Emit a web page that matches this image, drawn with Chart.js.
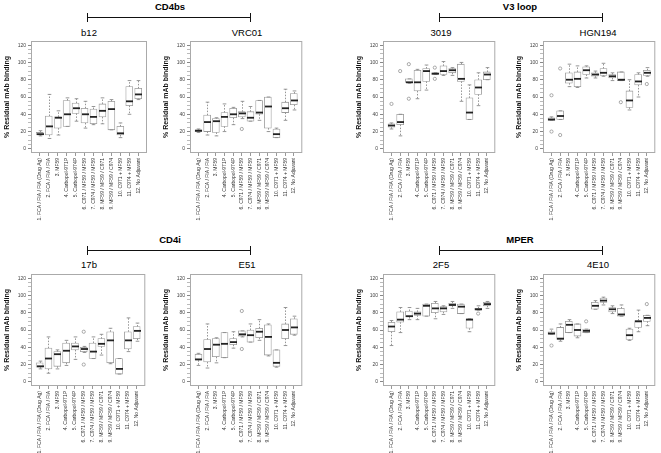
<!DOCTYPE html>
<html>
<head>
<meta charset="utf-8">
<script src="https://cdn.jsdelivr.net/npm/chart.js@4.4.1/dist/chart.umd.min.js"></script>
<style>
  html, body { margin: 0; padding: 0; background: #fff; }
  body { width: 661px; height: 453px; position: relative; overflow: hidden; font-family: "Liberation Sans", Arial, sans-serif; color: #000; }
  .grp { position: absolute; font-weight: bold; font-size: 9.5px; transform: translate(-50%, -50%); white-space: nowrap; }
  .ttl { position: absolute; font-size: 9.5px; transform: translate(-50%, -50%); white-space: nowrap; }
  .brk { position: absolute; height: 0; border-top: 1.5px solid #111; }
  .cap { position: absolute; width: 0; height: 9px; border-left: 1.5px solid #111; }
  .panel { position: absolute; }
</style>
</head>
<body>

<div class="grp" style="left:170px; top:6px;">CD4bs</div>
<div class="brk" style="left:88px; top:17px; width:163px;"></div>
<div class="cap" style="left:87px; top:13px;"></div>
<div class="cap" style="left:250px; top:13px;"></div>
<div class="ttl" style="left:89px; top:32px;">b12</div>
<div class="ttl" style="left:247px; top:32px;">VRC01</div>

<div class="grp" style="left:520px; top:6px;">V3 loop</div>
<div class="brk" style="left:440px; top:17px; width:163px;"></div>
<div class="cap" style="left:439px; top:13px;"></div>
<div class="cap" style="left:602px; top:13px;"></div>
<div class="ttl" style="left:441px; top:32px;">3019</div>
<div class="ttl" style="left:598px; top:32px;">HGN194</div>

<div class="grp" style="left:170px; top:239px;">CD4i</div>
<div class="brk" style="left:88px; top:250px; width:163px;"></div>
<div class="cap" style="left:87px; top:246px;"></div>
<div class="cap" style="left:250px; top:246px;"></div>
<div class="ttl" style="left:89px; top:264px;">17b</div>
<div class="ttl" style="left:247px; top:264px;">E51</div>

<div class="grp" style="left:520px; top:239px;">MPER</div>
<div class="brk" style="left:440px; top:250px; width:163px;"></div>
<div class="cap" style="left:439px; top:246px;"></div>
<div class="cap" style="left:602px; top:246px;"></div>
<div class="ttl" style="left:441px; top:264px;">2F5</div>
<div class="ttl" style="left:598px; top:264px;">4E10</div>

<script>
// groups on the x axis
const groups = [
  '1. FCA / FIA / FIA (Drug Ag)',
  '2. FCA / FIA / FIA',
  '3. MF59',
  '4. Carbopol-971P',
  '5. Carbopol-974P',
  '6. C971 / MF59 / MF59',
  '7. C974 / MF59 / MF59',
  '8. MF59 / MF59 / C971',
  '9. MF59 / MF59 / C974',
  '10. C971 + MF59',
  '11. C974 + MF59',
  '12. No Adjuvant'
];
const yTicks = [0, 20, 40, 60, 80, 100, 120];

// box stats per group: [lower whisker, q1, median, q3, upper whisker]
const b12Stats = [
  [15, 16, 17, 19, 21], [12, 16, 26, 38, 63], [16, 24, 36, 37, 44], [26, 26, 40, 56, 59],
  [32, 41, 47, 53, 58], [24, 30, 40, 47, 55], [28, 29, 37, 46, 49], [29, 37, 44, 52, 59],
  [22, 22, 46, 55, 57], [13, 16, 18, 26, 30], [40, 50, 55, 72, 79], [57, 58, 63, 70, 79]
];
const b12Out = [];

const vrc01Stats = [
  [19, 20, 21, 22, 23], [16, 20, 31, 39, 54], [15, 19, 32, 35, 36], [20, 26, 37, 42, 52],
  [28, 36, 40, 47, 48], [35, 37, 41, 43, 55], [32, 32, 36, 43, 49], [33, 40, 42, 56, 56],
  [20, 24, 49, 60, 60], [13, 13, 17, 23, 24], [33, 42, 47, 54, 69], [45, 51, 56, 64, 67]
];
const vrc01Out = [[6, 23]];

const m3019Stats = [
  [23, 25, 27, 29, 30], [15, 28, 31, 40, 40], [76, 77, 77, 81, 81], [58, 67, 77, 91, 92],
  [68, 78, 90, 93, 97], [86, 86, 87, 88, 88], [85, 86, 90, 96, 101], [85, 88, 91, 93, 94],
  [55, 78, 81, 98, 100], [34, 34, 42, 59, 74], [50, 63, 71, 80, 88], [80, 80, 86, 89, 94]
];
const m3019Out = [[1, 52], [2, 90], [3, 98], [3, 58], [6, 94], [6, 81]];

const hgn194Stats = [
  [33, 33, 34, 36, 37], [34, 34, 38, 44, 44], [72, 76, 80, 88, 98], [71, 72, 81, 89, 96],
  [82, 86, 91, 95, 96], [82, 84, 86, 88, 90], [84, 85, 88, 93, 99], [79, 82, 84, 86, 88],
  [79, 79, 80, 89, 89], [45, 48, 56, 67, 80], [60, 74, 78, 86, 88], [84, 85, 88, 91, 94]
];
const hgn194Out = [[1, 62], [1, 20], [2, 93], [2, 16], [9, 54], [12, 75]];

const m17bStats = [
  [15, 17, 18, 22, 24], [10, 15, 27, 39, 52], [15, 18, 32, 35, 37], [19, 22, 36, 45, 48],
  [26, 37, 41, 45, 52], [34, 35, 38, 40, 41], [27, 27, 35, 45, 52], [31, 41, 44, 50, 55],
  [21, 22, 48, 58, 62], [9, 9, 15, 27, 27], [35, 38, 48, 58, 74], [47, 50, 59, 64, 68]
];
const m17bOut = [[6, 58], [6, 20]];

const e51Stats = [
  [19, 25, 26, 32, 33], [16, 23, 38, 49, 67], [22, 29, 43, 50, 51], [28, 28, 44, 57, 57],
  [39, 43, 46, 50, 58], [52, 53, 55, 59, 59], [46, 46, 54, 60, 67], [48, 51, 58, 62, 72],
  [30, 31, 52, 66, 67], [17, 18, 22, 37, 37], [42, 50, 60, 67, 86], [54, 55, 63, 73, 76]
];
const e51Out = [[6, 82], [6, 38]];

const m2f5Stats = [
  [42, 58, 64, 69, 71], [57, 69, 72, 81, 86], [72, 75, 76, 82, 86], [72, 77, 79, 81, 85],
  [76, 76, 88, 90, 90], [73, 80, 85, 91, 93], [78, 81, 85, 87, 88], [85, 88, 89, 91, 93],
  [79, 79, 87, 90, 90], [58, 62, 72, 73, 73], [83, 83, 84, 85, 88], [85, 88, 90, 92, 93]
];
const m2f5Out = [[11, 79]];

const m4e10Stats = [
  [55, 55, 56, 58, 61], [47, 49, 50, 63, 67], [57, 57, 66, 70, 72], [51, 53, 60, 67, 67],
  [57, 57, 59, 61, 61], [84, 84, 88, 92, 94], [89, 92, 94, 97, 98], [79, 81, 84, 86, 88],
  [76, 76, 78, 85, 89], [48, 49, 54, 61, 62], [58, 63, 70, 71, 83], [65, 70, 74, 77, 77]
];
const m4e10Out = [[1, 42], [5, 70], [12, 90]];

// where each plot frame sits on the page
const panels = [
  { id: 'b12',    stats: b12Stats,    out: b12Out,    left: 31,  right: 147, top: 38,  bottom: 153 },
  { id: 'vrc01',  stats: vrc01Stats,  out: vrc01Out,  left: 190, right: 304, top: 38,  bottom: 153 },
  { id: 'm3019',  stats: m3019Stats,  out: m3019Out,  left: 383, right: 497, top: 38,  bottom: 153 },
  { id: 'hgn194', stats: hgn194Stats, out: hgn194Out, left: 543, right: 657, top: 38,  bottom: 153 },
  { id: 'm17b',   stats: m17bStats,   out: m17bOut,   left: 31,  right: 147, top: 271, bottom: 386 },
  { id: 'e51',    stats: e51Stats,    out: e51Out,    left: 190, right: 304, top: 271, bottom: 386 },
  { id: 'm2f5',   stats: m2f5Stats,   out: m2f5Out,   left: 383, right: 497, top: 271, bottom: 386 },
  { id: 'm4e10',  stats: m4e10Stats,  out: m4e10Out,  left: 543, right: 657, top: 271, bottom: 386 }
];

const Y_AXIS_W = 28;
const X_AXIS_H = 74;

// whiskers, caps, medians and the plot frame
const boxPlugin = {
  id: 'boxWhiskers',
  afterDatasetsDraw(chart, args, opts) {
    const xs = chart.scales.x;
    const ys = chart.scales.y;
    const ctx = chart.ctx;
    ctx.save();
    opts.stats.forEach((s, i) => {
      const x = Math.round(xs.getPixelForValue(i + 1)) + 0.5;
      const lo = ys.getPixelForValue(s[0]);
      const q1 = ys.getPixelForValue(s[1]);
      const med = ys.getPixelForValue(s[2]);
      const q3 = ys.getPixelForValue(s[3]);
      const hi = ys.getPixelForValue(s[4]);
      ctx.strokeStyle = '#8a8a8a';
      ctx.lineWidth = 0.9;
      ctx.setLineDash([1.5, 1.5]);
      ctx.beginPath();
      ctx.moveTo(x, q3); ctx.lineTo(x, hi);
      ctx.moveTo(x, q1); ctx.lineTo(x, lo);
      ctx.stroke();
      ctx.setLineDash([]);
      ctx.beginPath();
      ctx.moveTo(x - 1.8, hi); ctx.lineTo(x + 1.8, hi);
      ctx.moveTo(x - 1.8, lo); ctx.lineTo(x + 1.8, lo);
      ctx.stroke();
      ctx.strokeStyle = '#222';
      ctx.lineWidth = 1.8;
      ctx.beginPath();
      ctx.moveTo(x - 3.5, med); ctx.lineTo(x + 3.5, med);
      ctx.stroke();
    });
    const a = chart.chartArea;
    ctx.strokeStyle = '#aaa';
    ctx.lineWidth = 1;
    ctx.strokeRect(a.left + 0.5, a.top + 0.5, a.right - a.left - 1, a.bottom - a.top - 1);
    ctx.restore();
  }
};

function makePanel(p) {
  const wrap = document.createElement('div');
  wrap.className = 'panel';
  const w = (p.right - p.left) + Y_AXIS_W + 3;
  const h = (p.bottom - p.top) + X_AXIS_H + 2;
  wrap.style.left = (p.left - Y_AXIS_W) + 'px';
  wrap.style.top = (p.top - 2) + 'px';
  wrap.style.width = w + 'px';
  wrap.style.height = h + 'px';
  const cv = document.createElement('canvas');
  cv.id = p.id;
  wrap.appendChild(cv);
  document.body.appendChild(wrap);

  new Chart(cv, {
    type: 'bar',
    data: {
      datasets: [
        {
          label: 'box',
          data: p.stats.map((s, i) => ({ x: i + 1, y: [s[1], s[3]] })),
          backgroundColor: '#fff',
          borderColor: '#999',
          borderWidth: 0.8,
          borderSkipped: false,
          barThickness: 7
        },
        {
          type: 'scatter',
          label: 'outliers',
          data: p.out.map(o => ({ x: o[0], y: o[1] })),
          pointStyle: 'circle',
          pointRadius: 1.6,
          borderWidth: 0.7,
          borderColor: '#888',
          backgroundColor: 'rgba(0,0,0,0)'
        }
      ]
    },
    options: {
      responsive: true,
      maintainAspectRatio: false,
      animation: false,
      layout: { padding: { top: 2, right: 3, left: 0, bottom: 0 } },
      plugins: {
        legend: { display: false },
        tooltip: { enabled: false },
        boxWhiskers: { stats: p.stats }
      },
      scales: {
        x: {
          type: 'linear',
          min: 0.02,
          max: 12.98,
          offset: false,
          border: { display: false },
          grid: { drawOnChartArea: false, offset: false, tickLength: 3, color: '#999' },
          ticks: {
            stepSize: 1,
            autoSkip: false,
            includeBounds: false,
            maxRotation: 90,
            minRotation: 90,
            padding: 2,
            color: '#333',
            font: { size: 5, family: '"Liberation Sans", Arial, sans-serif' },
            callback: v => groups[v - 1] || ''
          },
          afterFit: s => { s.height = X_AXIS_H; }
        },
        y: {
          min: -4.8,
          max: 124.8,
          border: { display: false },
          grid: {
            drawOnChartArea: false,
            tickLength: 3,
            color: ctx => (yTicks.includes(ctx.tick.value) ? '#888' : '#bbb')
          },
          ticks: {
            stepSize: 5,
            autoSkip: false,
            includeBounds: false,
            padding: 2,
            color: '#444',
            font: { size: 5, family: '"Liberation Sans", Arial, sans-serif' },
            callback: v => (yTicks.includes(v) ? String(v) : '')
          },
          title: {
            display: true,
            text: '% Residual mAb binding',
            color: '#111',
            padding: 0,
            font: { size: 7, weight: 'bold', family: '"Liberation Sans", Arial, sans-serif' }
          },
          afterFit: s => { s.width = Y_AXIS_W; }
        }
      }
    },
    plugins: [boxPlugin]
  });
}

panels.forEach(makePanel);
</script>
</body>
</html>
